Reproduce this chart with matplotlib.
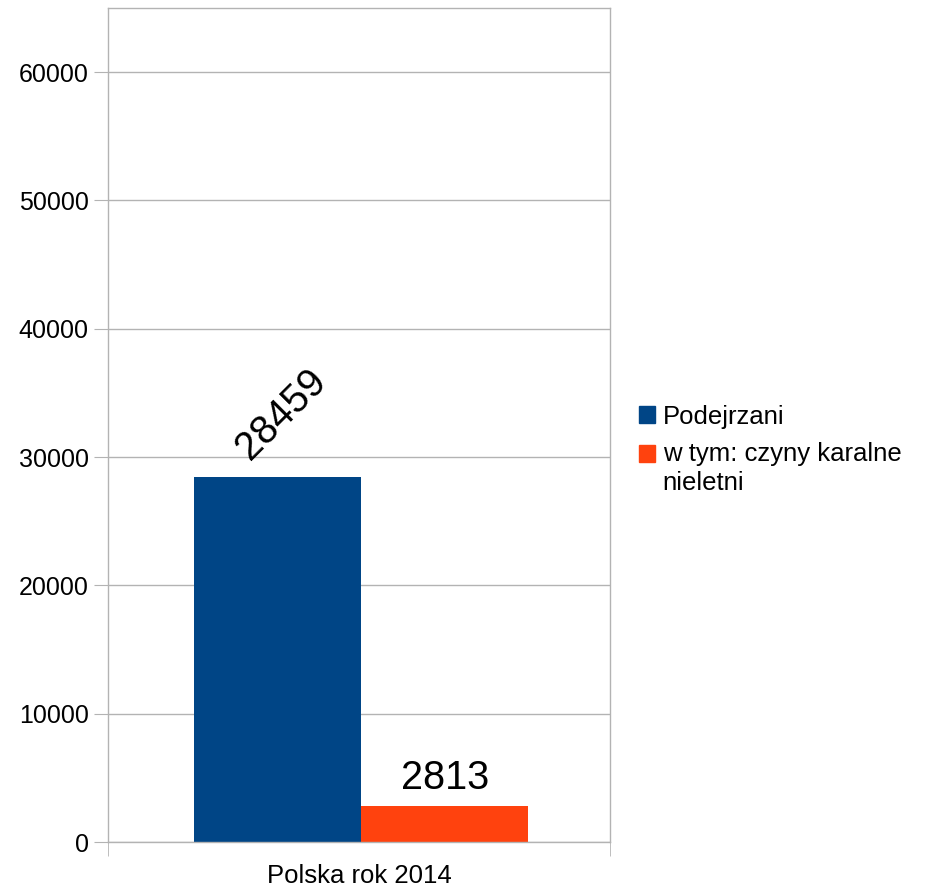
import matplotlib.pyplot as plt
import matplotlib.patches as mpatches
from matplotlib.legend_handler import HandlerPatch

# data
category = "Polska rok 2014"
series_names = ["Podejrzani", "w tym: czyny karalne\nnieletni"]
series_values = [28459, 2813]
series_colors = ["#004586", "#ff420e"]
y_ticks = [0, 10000, 20000, 30000, 40000, 50000, 60000]

plt.rcParams['font.family'] = ['Liberation Sans', 'DejaVu Sans']

fig = plt.figure(figsize=(9.27, 8.88), dpi=100)
ax = fig.add_axes([108 / 927, 46 / 888, 502 / 927, 834 / 888])

grid_c = "#b3b3b3"
width = 0.333
offsets = [-width / 2 + 0.004, width / 2 + 0.004]
for name, val, col, off in zip(series_names, series_values, series_colors, offsets):
    ax.bar(off, val, width=width, color=col, label=name, zorder=2)

# value labels
ax.annotate(str(series_values[0]), (offsets[0], series_values[0]),
            xytext=(4, 10), textcoords="offset pixels",
            ha="center", va="bottom", rotation=45, fontsize=28.5)
ax.annotate(str(series_values[1]), (offsets[1], series_values[1]),
            xytext=(1, 9), textcoords="offset pixels",
            ha="center", va="bottom", fontsize=28.5)

ax.set_xlim(-0.5, 0.5)
ax.set_ylim(0, 65000)
ax.set_yticks(y_ticks)
ax.set_yticklabels([str(t) for t in y_ticks], fontsize=18)
ax.yaxis.grid(True, color=grid_c, linewidth=1, zorder=0)
ax.tick_params(axis="y", length=10, color=grid_c, pad=4)

ax.set_xticks([0])
ax.set_xticklabels([category], fontsize=18.5)
ax.set_xticks([-0.5, 0.5], minor=True)
ax.tick_params(axis="x", which="major", length=0, pad=16)
ax.tick_params(axis="x", which="minor", length=10, color=grid_c)

for s in ax.spines.values():
    s.set_color(grid_c)
    s.set_linewidth(1)


# legend square of a two-line entry sits next to its first line
def first_line_patch(legend, orig_handle, xdescent, ydescent, width, height, fontsize):
    return mpatches.Rectangle((-xdescent, -ydescent + 0.6 * fontsize), width, height)


handles = [mpatches.Patch(color=c) for c in series_colors]
leg = ax.legend(handles, series_names, loc="center left", bbox_to_anchor=(1.037, 0.47),
                frameon=False, fontsize=18.5, handlelength=0.63, handleheight=0.63,
                handletextpad=0.3, labelspacing=0.5, borderaxespad=0,
                handler_map={handles[1]: HandlerPatch(patch_func=first_line_patch)})
for t in leg.get_texts():
    t.set_linespacing(1.3)

fig.savefig("out.png", dpi=100)
